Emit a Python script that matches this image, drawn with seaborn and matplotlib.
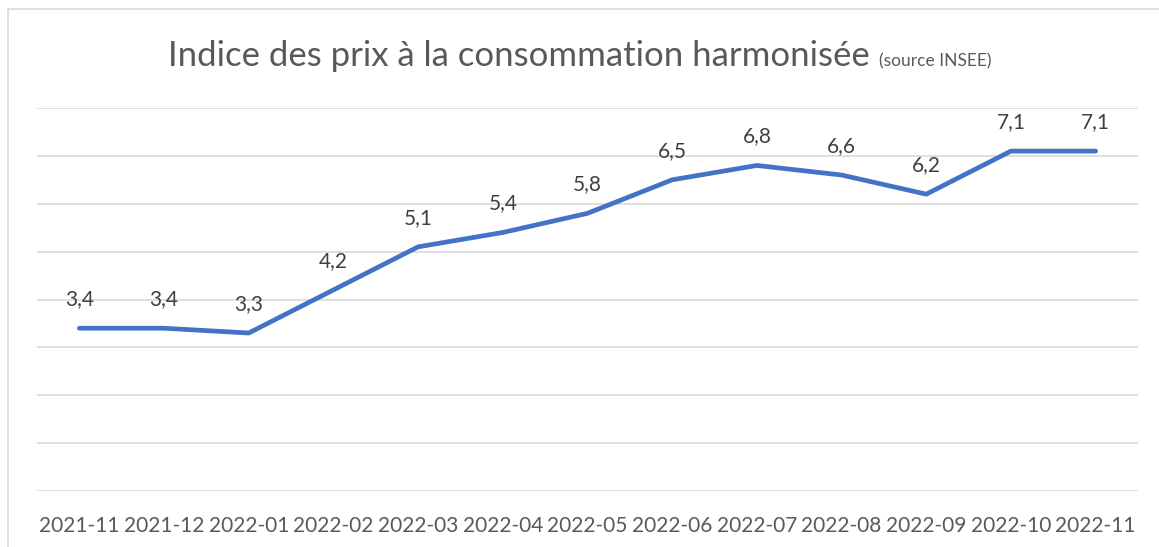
import pandas as pd
import seaborn as sns
import matplotlib.pyplot as plt
from matplotlib.patches import Rectangle

months = ["2021-11", "2021-12", "2022-01", "2022-02", "2022-03", "2022-04", "2022-05",
          "2022-06", "2022-07", "2022-08", "2022-09", "2022-10", "2022-11"]
ipch = [3.4, 3.4, 3.3, 4.2, 5.1, 5.4, 5.8, 6.5, 6.8, 6.6, 6.2, 7.1, 7.1]

df = pd.DataFrame({"mois": months, "ipch": ipch})

sns.set_theme(style="white")
plt.rcParams["font.family"] = ["Lato", "DejaVu Sans"]

W, H = 1159, 547
fig = plt.figure(figsize=(W / 100, H / 100), dpi=100)
ax = fig.add_axes([37 / W, 1 - 491 / H, (1138 - 37) / W, (491 - 108) / H])

sns.lineplot(data=df, x="mois", y="ipch", ax=ax, color="#4472C4", linewidth=3.4,
             sort=False, solid_capstyle="round", solid_joinstyle="round")

ax.set_xlim(-0.5, len(months) - 0.5)
ax.set_ylim(0, 8)
ax.set_yticks(range(0, 9))
ax.yaxis.grid(True, color="#D9D9D9", linewidth=1.2)
ax.set_axisbelow(True)
ax.tick_params(axis="y", left=False, labelleft=False)
ax.tick_params(axis="x", bottom=False, labelsize=15, labelcolor="#595959", pad=12)
ax.set_xlabel("")
ax.set_ylabel("")
for s in ax.spines.values():
    s.set_visible(False)

for i, v in enumerate(ipch):
    ax.annotate(f"{v:.1f}".replace(".", ","), (i, v), xytext=(0, 21), textcoords="offset points",
                ha="center", va="center", fontsize=15, color="#404040")

# title in two parts
t1 = fig.text(168 / W, 1 - 66 / H, "Indice des prix à la consommation harmonisée",
              fontsize=25, color="#595959", ha="left", va="baseline")
fig.canvas.draw()
bb = t1.get_window_extent()
fig.text((bb.x1 + 9) / W, 1 - 66 / H, "(source INSEE)", fontsize=12.5, color="#595959",
         ha="left", va="baseline")

# chart frame
fig.patches.append(Rectangle((8 / W, -0.1), 1.2, 1 - 9 / H + 0.1, transform=fig.transFigure,
                             fill=False, edgecolor="#D9D9D9", linewidth=1.2))

fig.savefig("out.png", dpi=100, facecolor="white")
